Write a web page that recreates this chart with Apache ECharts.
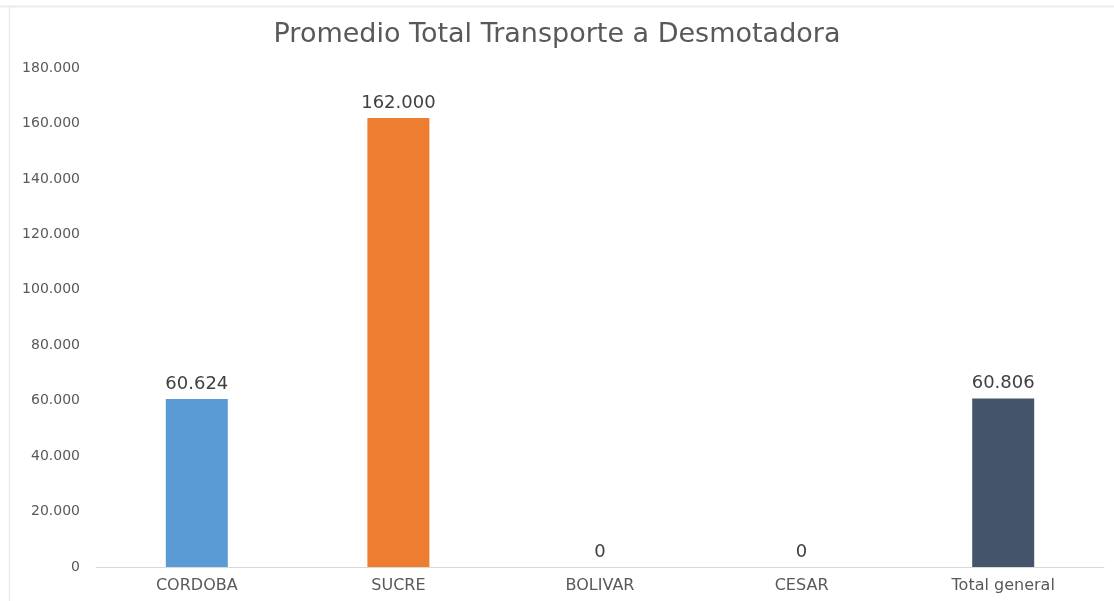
<!DOCTYPE html>
<html>
<head>
<meta charset="utf-8">
<script src="https://cdn.jsdelivr.net/npm/echarts@6/dist/echarts.min.js"></script>
<style>
  html, body { margin: 0; padding: 0; background: #fff; }
  #chart { width: 1114px; height: 601px; }
</style>
</head>
<body>
<div id="chart"></div>
<script>
const categories = ['CORDOBA', 'SUCRE', 'BOLIVAR', 'CESAR', 'Total general']
const values = [60624, 162000, 0, 0, 60806]
const barColors = ['#5B9BD5', '#ED7D31', '#A5A5A5', '#FFC000', '#44546A']

// dot as thousands separator, as in the source
const fmt = (v) => String(Math.round(v)).replace(/\B(?=(\d{3})+(?!\d))/g, '.')

const chart = echarts.init(document.getElementById('chart'))

const option = {
  backgroundColor: '#fff',
  animation: false,
  title: {
    text: 'Promedio Total Transporte a Desmotadora',
    left: 'center',
    top: 16,
    textStyle: {
      fontFamily: 'DejaVu Sans',
      fontSize: 27,
      fontWeight: 'normal',
      color: '#595959'
    }
  },
  graphic: [
    { type: 'line', shape: { x1: 0, y1: 6.5, x2: 1114, y2: 6.5 }, style: { stroke: '#ebebeb', lineWidth: 2 } },
    { type: 'line', shape: { x1: 9.5, y1: 6, x2: 9.5, y2: 601 }, style: { stroke: '#ebebeb', lineWidth: 1.5 } }
  ],
  grid: {
    left: 96,
    right: 10,
    top: 68,
    bottom: 34
  },
  xAxis: {
    type: 'category',
    data: categories,
    axisLine: { lineStyle: { color: '#d9d9d9' } },
    axisTick: { show: false },
    axisLabel: {
      color: '#595959',
      fontFamily: 'DejaVu Sans',
      fontSize: 16,
      margin: 11
    }
  },
  yAxis: {
    type: 'value',
    min: 0,
    max: 180000,
    interval: 20000,
    axisLine: { show: false },
    axisTick: { show: false },
    splitLine: { show: false },
    axisLabel: {
      color: '#595959',
      fontFamily: 'DejaVu Sans',
      fontSize: 14,
      margin: 16,
      formatter: fmt
    }
  },
  series: [
    {
      type: 'bar',
      barWidth: 62,
      data: values.map((v, i) => ({ value: v, itemStyle: { color: barColors[i] } })),
      label: {
        show: true,
        position: 'top',
        distance: 6,
        color: '#404040',
        fontFamily: 'DejaVu Sans',
        fontSize: 18,
        formatter: (p) => fmt(p.value)
      }
    }
  ]
}

chart.setOption(option)
</script>
</body>
</html>
